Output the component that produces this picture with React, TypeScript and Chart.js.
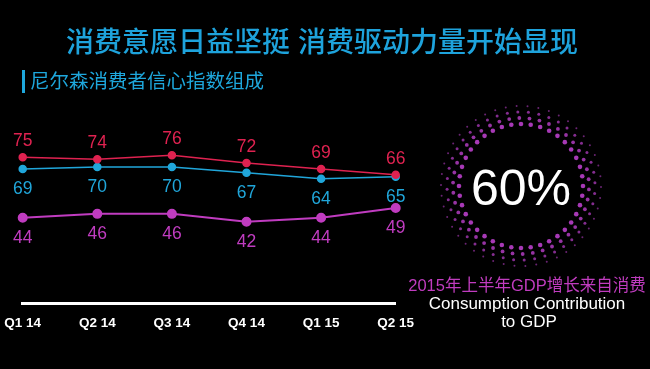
import React, { useEffect, useRef } from "react";
import { Chart, registerables } from "chart.js";
Chart.register(...registerables);

const categories = ["Q1 14", "Q2 14", "Q3 14", "Q4 14", "Q1 15", "Q2 15"];
const seriesNames = ["就业前景", "个人经济状况", "消费意愿"];
const redValues = [75, 74, 76, 72, 69, 66];
const blueValues = [69, 70, 70, 67, 64, 65];
const purpleValues = [44, 46, 46, 42, 44, 49];

const RED = "#df2250";
const BLUE = "#20a6da";
const PURPLE = "#c03cc0";
const LABEL_OFFSETS = [-16, 20, 20];

const W = 650;
const H = 369;

const labelPlugin = {
  id: "pointLabels",
  afterDatasetsDraw(chart: any) {
    const ctx = chart.ctx;
    ctx.save();
    ctx.font = "17.5px 'Liberation Sans', Arial, sans-serif";
    ctx.textAlign = "center";
    ctx.textBaseline = "middle";
    chart.data.datasets.forEach((ds: any, i: number) => {
      const meta = chart.getDatasetMeta(i);
      ctx.fillStyle = ds.borderColor;
      meta.data.forEach((pt: any, j: number) => {
        ctx.fillText(String(ds.data[j]), pt.x, pt.y + LABEL_OFFSETS[i]);
      });
    });
    ctx.restore();
  },
};

const ringPlugin = {
  id: "dotRing",
  afterDraw(chart: any) {
    const ctx = chart.ctx;
    const cx = 521;
    const cy = 186;
    const rings = [
      { r: 62, s: 2.3, n: 40, a: 0.95 },
      { r: 68, s: 1.9, n: 42, a: 0.85 },
      { r: 74, s: 1.5, n: 44, a: 0.75 },
      { r: 80, s: 1.0, n: 46, a: 0.6 },
    ];
    ctx.save();
    rings.forEach((ring, k) => {
      for (let i = 0; i < ring.n; i++) {
        const ang = (i / ring.n) * Math.PI * 2 + k * 0.05;
        ctx.globalAlpha = ring.a;
        ctx.fillStyle = "#b03cc0";
        ctx.beginPath();
        ctx.arc(cx + Math.cos(ang) * ring.r, cy + Math.sin(ang) * ring.r, ring.s, 0, Math.PI * 2);
        ctx.fill();
      }
    });
    ctx.restore();
  },
};

export default function App() {
  const ref = useRef<HTMLCanvasElement | null>(null);
  useEffect(() => {
    document.body.style.margin = "0";
    document.body.style.background = "#000";
    const canvas = ref.current!;
    const mk = (label: string, data: number[], color: string, radius: number, bw: number) => ({
      label,
      data,
      borderColor: color,
      backgroundColor: color,
      pointBackgroundColor: color,
      pointBorderColor: color,
      pointRadius: radius,
      borderWidth: bw,
      tension: 0,
    });
    const chart = new Chart(canvas, {
      type: "line",
      data: {
        labels: categories,
        datasets: [
          mk(seriesNames[0], redValues, RED, 3.5, 1.5),
          mk(seriesNames[1], blueValues, BLUE, 3.5, 1.5),
          mk(seriesNames[2], purpleValues, PURPLE, 4, 2),
        ],
      },
      options: {
        responsive: false,
        animation: false,
        devicePixelRatio: 1,
        layout: { padding: { left: 22.7, right: 254.3, top: 108.4, bottom: 0 } },
        plugins: { legend: { display: false }, tooltip: { enabled: false } },
        scales: {
          y: { display: false, min: 0, max: 100 },
          x: {
            offset: false,
            grid: { display: false, drawTicks: false },
            border: { display: true, color: "#ffffff", width: 3 },
            ticks: {
              color: "#ffffff",
              font: { family: "'Liberation Sans', Arial, sans-serif", size: 13.5, weight: "bold" },
              padding: 11,
              maxRotation: 0,
              autoSkip: false,
            },
            afterFit(scale: any) {
              scale.height = 65.3;
              scale.paddingLeft = 0;
              scale.paddingRight = 0;
            },
          },
        },
      },
      plugins: [labelPlugin, ringPlugin],
    } as any);
    return () => chart.destroy();
  }, []);

  const abs = (x: number, y: number, extra: any): any => ({
    position: "absolute",
    left: x,
    top: y,
    transform: "translate(-50%, -50%)",
    whiteSpace: "nowrap",
    lineHeight: 1,
    ...extra,
  });
  const cjk = "'Liberation Sans', 'Noto Sans CJK SC', sans-serif";

  return (
    <div style={{ position: "relative", width: W, height: H, background: "#000", overflow: "hidden" }}>
      <canvas ref={ref} width={W} height={H} style={{ display: "block", position: "absolute", left: 0, top: 0 }} />
      <div style={abs(322, 43, { color: "#1ea3dc", fontSize: 28, fontFamily: cjk, fontWeight: 500 })}>
        消费意愿日益坚挺 消费驱动力量开始显现
      </div>
      <div style={{ position: "absolute", left: 22, top: 70, width: 3, height: 23, background: "#1ea7dc" }} />
      <div style={{ position: "absolute", left: 30, top: 72, lineHeight: 1, color: "#1ea7dc", fontSize: 19.5, fontFamily: cjk, whiteSpace: "nowrap" }}>
        尼尔森消费者信心指数组成
      </div>
      <div style={abs(521, 188, { color: "#fff", fontSize: 50, fontFamily: "'Liberation Sans', Arial, sans-serif" })}>60%</div>
      <div style={abs(527, 285, { color: "#c03cbf", fontSize: 16.5, fontFamily: cjk })}>2015年上半年GDP增长来自消费</div>
      <div style={abs(527, 303, { color: "#fff", fontSize: 17, fontFamily: "'Liberation Sans', Arial, sans-serif" })}>
        Consumption Contribution
      </div>
      <div style={abs(529, 321, { color: "#fff", fontSize: 17, fontFamily: "'Liberation Sans', Arial, sans-serif" })}>to GDP</div>
    </div>
  );
}
